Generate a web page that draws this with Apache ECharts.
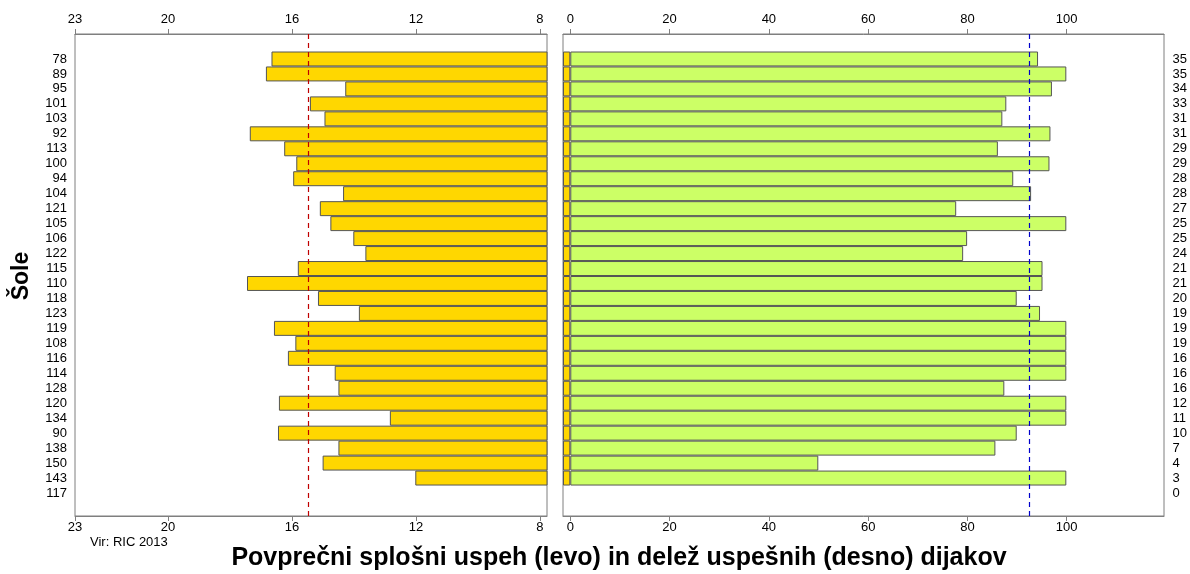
<!DOCTYPE html>
<html>
<head>
<meta charset="utf-8">
<script src="https://cdn.jsdelivr.net/npm/echarts@6/dist/echarts.min.js"></script>
<style>
  html, body { margin: 0; padding: 0; background: #fff; }
  #chart { width: 1190px; height: 574px; }
</style>
</head>
<body>
<div id="chart"></div>
<script>
// šole (od zgoraj navzdol)
var schools = ['78', '89', '95', '101', '103', '92', '113', '100', '94', '104',
  '121', '105', '106', '122', '115', '110', '118', '123', '119', '108',
  '116', '114', '128', '120', '134', '90', '138', '150', '143', '117']
// povprečni splošni uspeh (levo)
var avgScore = [16.66, 16.84, 14.28, 15.42, 14.95, 17.36, 16.25, 15.86, 15.96, 14.35,
  15.10, 14.76, 14.02, 13.63, 15.81, 17.45, 15.16, 13.84, 16.58, 15.89,
  16.13, 14.62, 14.50, 16.42, 12.84, 16.45, 14.50, 15.01, 12.02, null]
// delež uspešnih dijakov v % (desno)
var passShare = [94.3, 100, 97.1, 87.9, 87.1, 96.8, 86.2, 96.6, 89.3, 92.9,
  77.8, 100, 80.0, 79.2, 95.2, 95.2, 90.0, 94.7, 100, 100,
  100, 100, 87.5, 100, 100, 90.0, 85.7, 50.0, 100, null]
// število dijakov (desna os)
var students = ['35', '35', '34', '33', '31', '31', '29', '29', '28', '28',
  '27', '25', '25', '24', '21', '21', '20', '19', '19', '19',
  '16', '16', '16', '12', '11', '10', '7', '4', '3', '0']
var leftTicks = [8, 12, 16, 20, 23]
var rightTicks = [0, 20, 40, 60, 80, 100]
var avgMean = 15.48
var shareMean = 92.5

var leftMin = 7.77
var leftMax = 23
var rightMin = -1.47
var rightMax = 119.6

var frameColor = '#7f7f7f'
var barBorder = '#555555'
var font = 'Liberation Sans, Arial, sans-serif'

// rumeni začetek na desni plošči (od roba do 0)
var stub = avgScore.map(function (v) { return v == null ? null : rightMin })

var chart = echarts.init(document.getElementById('chart'))

function valAxis (grid, pos, min, max, inverse, ticks, show) {
  return {
    type: 'value',
    gridIndex: grid,
    position: pos,
    min: min,
    max: max,
    inverse: inverse,
    show: show,
    splitLine: { show: false },
    axisLine: { show: show, onZero: false, lineStyle: { color: frameColor } },
    axisTick: { show: show, length: 5, customValues: ticks, lineStyle: { color: frameColor } },
    axisLabel: {
      show: show,
      customValues: ticks,
      color: '#000',
      fontSize: 13,
      fontFamily: font,
      margin: pos === 'top' ? 8 : 5
    }
  }
}

chart.setOption({
  animation: false,
  backgroundColor: '#fff',
  grid: [
    { left: 75, top: 34, width: 472, height: 482, show: true, borderColor: frameColor, borderWidth: 1 },
    { left: 563, top: 34, width: 601, height: 482, show: true, borderColor: frameColor, borderWidth: 1 },
    { left: 75, top: 51.5, width: 472, height: 449 },
    { left: 563, top: 51.5, width: 601, height: 449 }
  ],
  xAxis: [
    valAxis(0, 'bottom', leftMin, leftMax, true, leftTicks, true),
    valAxis(0, 'top', leftMin, leftMax, true, leftTicks, true),
    valAxis(1, 'bottom', rightMin, rightMax, false, rightTicks, true),
    valAxis(1, 'top', rightMin, rightMax, false, rightTicks, true),
    valAxis(2, 'bottom', leftMin, leftMax, true, leftTicks, false),
    valAxis(3, 'bottom', rightMin, rightMax, false, rightTicks, false)
  ],
  yAxis: [
    { type: 'value', gridIndex: 0, min: 0, max: 1, show: false },
    { type: 'value', gridIndex: 1, min: 0, max: 1, show: false },
    {
      type: 'category',
      gridIndex: 2,
      position: 'left',
      inverse: true,
      data: schools,
      name: 'Šole',
      nameLocation: 'middle',
      nameRotate: 90,
      nameGap: 42,
      nameTextStyle: { color: '#000', fontSize: 23, fontWeight: 'bold', fontFamily: font },
      axisLine: { show: false },
      axisTick: { length: 6, alignWithLabel: true, lineStyle: { color: frameColor } },
      axisLabel: { color: '#000', fontSize: 13, fontFamily: font, margin: 8, interval: 0 }
    },
    {
      type: 'category',
      gridIndex: 3,
      position: 'right',
      inverse: true,
      data: students,
      axisLine: { show: false },
      axisTick: { length: 5, alignWithLabel: true, lineStyle: { color: frameColor } },
      axisLabel: { color: '#000', fontSize: 13, fontFamily: font, margin: 9, interval: 0 }
    }
  ],
  series: [
    {
      name: 'uspeh',
      type: 'bar',
      xAxisIndex: 4,
      yAxisIndex: 2,
      data: avgScore,
      barCategoryGap: '0%',
      itemStyle: { color: '#FFD700', borderColor: barBorder, borderWidth: 1 }
    },
    {
      name: 'rob',
      type: 'bar',
      xAxisIndex: 5,
      yAxisIndex: 3,
      data: stub,
      barCategoryGap: '0%',
      barGap: '-100%',
      itemStyle: { color: '#FFD700', borderColor: barBorder, borderWidth: 1 }
    },
    {
      name: 'delež',
      type: 'bar',
      xAxisIndex: 5,
      yAxisIndex: 3,
      data: passShare,
      barCategoryGap: '0%',
      barGap: '-100%',
      itemStyle: { color: '#CCFF66', borderColor: barBorder, borderWidth: 1 }
    },
    {
      type: 'line',
      xAxisIndex: 0,
      yAxisIndex: 0,
      data: [],
      z: 5,
      markLine: {
        silent: true,
        symbol: 'none',
        label: { show: false },
        lineStyle: { color: '#C00000', type: [5, 4], width: 1.2 },
        data: [{ xAxis: avgMean }]
      }
    },
    {
      type: 'line',
      xAxisIndex: 2,
      yAxisIndex: 1,
      data: [],
      z: 5,
      markLine: {
        silent: true,
        symbol: 'none',
        label: { show: false },
        lineStyle: { color: '#0000CC', type: [5, 4], width: 1.2 },
        data: [{ xAxis: shareMean }]
      }
    }
  ],
  graphic: [
    {
      type: 'text',
      x: 619,
      y: 558,
      style: {
        text: 'Povprečni splošni uspeh (levo) in delež uspešnih (desno) dijakov',
        fontSize: 25,
        fontWeight: 'bold',
        fontFamily: font,
        fill: '#000',
        align: 'center',
        verticalAlign: 'middle'
      }
    },
    {
      type: 'text',
      x: 90,
      y: 536,
      style: { text: 'Vir: RIC 2013', fontSize: 13, fontFamily: font, fill: '#000' }
    }
  ]
})
</script>
</body>
</html>
